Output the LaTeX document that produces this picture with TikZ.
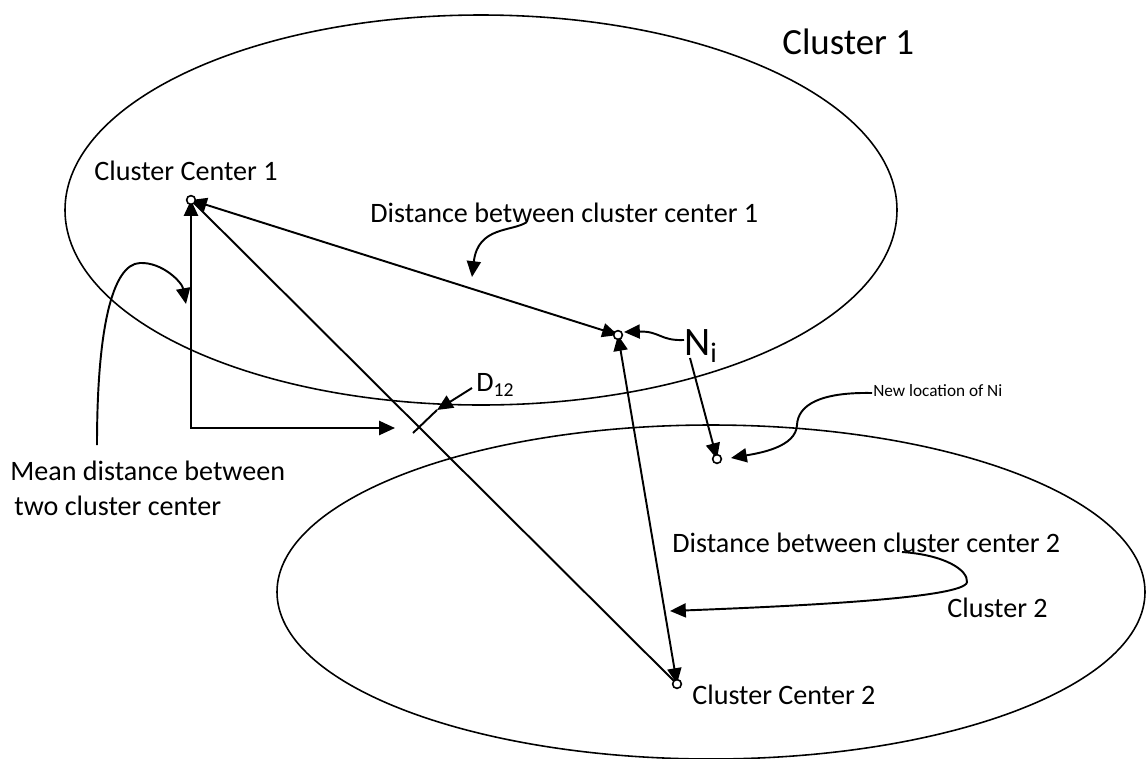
\documentclass[tikz,border=0pt]{standalone}
\usepackage{fontspec}
\setmainfont{Carlito}
\usetikzlibrary{arrows.meta}
\begin{document}
\begin{tikzpicture}[x=0.02cm,y=-0.02cm,
  ln/.style={line width=1.1pt},
  arr/.style={-{Triangle[length=9pt,width=8pt]}},
  both/.style={{Triangle[length=9pt,width=8pt]}-{Triangle[length=9pt,width=8pt]}},
  pt/.style={circle,draw,line width=0.9pt,fill=white,inner sep=0pt,minimum size=5pt},
  lbl/.style={font=\fontsize{16}{19}\selectfont,inner sep=0pt,anchor=west},
]
\useasboundingbox (0,0) rectangle (1147,758);
\draw[line width=0.9pt] (481,210) ellipse [x radius=416, y radius=195];
\draw[line width=0.9pt] (711,592) ellipse [x radius=434, y radius=167];

% coordinates
\coordinate (hend) at (395,428);
\coordinate (t1) at (413,433);
\coordinate (t2) at (437,410);
\coordinate (d12s) at (472,388);
\coordinate (nis) at (690,358);

% text
\node[font=\fontsize{21}{24}\selectfont,inner sep=0pt,anchor=west] (c1) at (782,42) {Cluster 1};
\node[lbl,anchor=center] (tcc1) at (186,171) {Cluster Center 1};
\node[lbl] (td1) at (370,213) {Distance between cluster center 1};
\node[font=\fontsize{23}{26}\selectfont,inner sep=0pt,anchor=west] (tni) at (684,346) {N\textsubscript{i}};
\node[lbl] (td12) at (476,385) {D\textsubscript{12}};
\node[font=\fontsize{9.8}{12}\selectfont,inner sep=0pt,anchor=west] (tnl) at (873,391) {New location of Ni};
\node[lbl] (tmean1) at (10,471) {Mean distance between};
\node[lbl] (tmean2) at (14,506) {two cluster center};
\node[lbl] (td2) at (672,543) {Distance between cluster center 2};
\node[lbl] (tc2) at (947,608) {Cluster 2};
\node[lbl] (tcc2) at (692,695) {Cluster Center 2};

% straight connectors
\draw[ln] (191,200) -- (677,684);
\draw[ln,both] (191,200) -- (618,335);
\draw[ln,both] (618,335) -- (677,684);
\draw[ln,both] (191,200) |- (hend);
\draw[ln] (t1) -- (t2);
\draw[ln,arr] (d12s) -- (t2);
\draw[ln,arr] (nis) -- (717,459);

% curved annotation arrows
\draw[ln,arr] (527,222) .. controls (512,232) and (478,226) .. (472,277);
\draw[ln,arr] (684,340) .. controls (660,341) and (660,331) .. (624,332);
\draw[ln,arr] (872,393) .. controls (820,392) and (798,405) .. (797,425) .. controls (796,447) and (760,453) .. (731,458);
\draw[ln,arr] (97,445) .. controls (97,330) and (112,264) .. (140,263) .. controls (162,262) and (182,282) .. (186,304);
\draw[ln,arr] (902,552) .. controls (945,555) and (968,570) .. (967,582) .. controls (966,598) and (800,606) .. (670,611);

% points
\node[pt] (cc1) at (191,200) {};
\node[pt] (ni) at (618,335) {};
\node[pt] (nl) at (717,459) {};
\node[pt] (cc2) at (677,684) {};
\end{tikzpicture}
\end{document}
